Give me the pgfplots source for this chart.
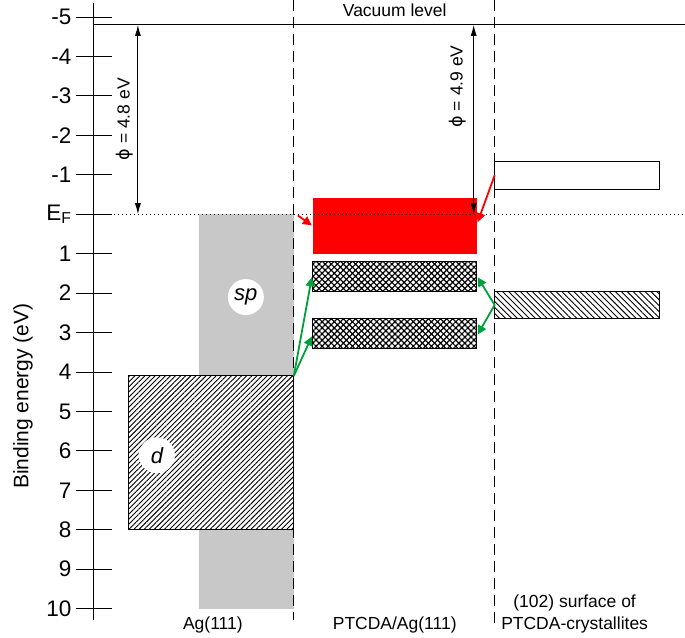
\documentclass[border=0pt]{standalone}
\usepackage{pgfplots}
\pgfplotsset{compat=1.18}
\usepackage{fontspec}
\setmainfont{Liberation Sans}
\newfontfamily\dejavu{DejaVu Sans}
\usetikzlibrary{patterns.meta, arrows.meta}
\definecolor{sgrey}{RGB}{200,200,200}
\definecolor{sgreen}{RGB}{0,160,60}
\begin{document}
\begin{tikzpicture}
\begin{axis}[
  scale only axis, width=591pt, height=616.9pt,
  xmin=94, xmax=685, ymin=-5.35, ymax=10.28, y dir=reverse,
  axis x line=none, axis y line=left,
  y axis line style={-, line width=0.9pt, black},
  ytick={-5,-4,-3,-2,-1,0,1,2,3,4,5,6,7,8,9,10},
  yticklabels={-5,-4,-3,-2,-1,E\textsubscript{F},1,2,3,4,5,6,7,8,9,10},
  ytick align=center, major tick length=36pt,
  tick style={line width=0.9pt, black},
  yticklabel style={font=\fontsize{22.5}{22.5}\selectfont, xshift=-1pt},
  clip=false,
]
\path (axis cs:0,-5.42) rectangle (axis cs:685,10.74);
% grey sp band
\addplot[fill=sgrey, draw=none] coordinates {(199,0) (294,0) (294,10) (199,10)} -- cycle;
% d band
\addplot[draw=black, line width=0.9pt, fill=white, postaction={pattern={Lines[angle=45,distance=3.6pt,line width=0.9pt]}}] coordinates {(129,4.1) (294,4.1) (294,8.0) (129,8.0)} -- cycle;
% PTCDA/Ag(111) levels
\addplot[fill=red, draw=none] coordinates {(313,-0.4) (477,-0.4) (477,1.0) (313,1.0)} -- cycle;
\addplot[draw=black, line width=0.9pt, fill=white, postaction={pattern={Hatch[angle=45,distance=4.3pt,line width=1.2pt]}}] coordinates {(313,1.2) (477,1.2) (477,1.95) (313,1.95)} -- cycle;
\addplot[draw=black, line width=0.9pt, fill=white, postaction={pattern={Hatch[angle=45,distance=4.3pt,line width=1.2pt]}}] coordinates {(313,2.65) (477,2.65) (477,3.4) (313,3.4)} -- cycle;
% crystallite levels
\addplot[draw=black, line width=0.9pt, fill=white] coordinates {(495,-1.35) (660,-1.35) (660,-0.63) (495,-0.63)} -- cycle;
\addplot[draw=black, line width=0.9pt, fill=white, postaction={pattern={Lines[angle=-45,distance=4.2pt,line width=0.9pt]}}] coordinates {(495,1.95) (660,1.95) (660,2.65) (495,2.65)} -- cycle;
% vacuum level and Fermi level
\addplot[black, line width=0.9pt] coordinates {(94,-4.8) (685,-4.8)};
\addplot[black, line width=0.9pt, dash pattern=on 1pt off 3pt] coordinates {(94,0) (685,0)};
% dashed separators
\addplot[black, line width=0.9pt, dash pattern=on 11pt off 6pt] coordinates {(294,-5.42) (294,10.3)};
\addplot[black, line width=0.9pt, dash pattern=on 11pt off 6pt] coordinates {(495,-5.42) (495,10.5)};
% work function arrows
\addplot[black, line width=0.9pt, {Latex[length=11pt,width=6pt]}-{Latex[length=11pt,width=6pt]}] coordinates {(138,-4.8) (138,0)};
\addplot[black, line width=0.9pt, {Latex[length=11pt,width=6pt]}-{Latex[length=11pt,width=6pt]}] coordinates {(474,-4.8) (474,0)};
% red arrows
\addplot[red, line width=1.8pt, -{Triangle[length=9pt,width=9pt]}] coordinates {(298,0.03) (312,0.28)};
\addplot[red, line width=1.8pt, -{Triangle[length=9pt,width=9pt]}] coordinates {(495,-0.99) (478,0.2)};
% green arrows
\addplot[sgreen, line width=1.8pt, -{Triangle[length=9pt,width=9pt]}] coordinates {(294,4.1) (312,1.6)};
\addplot[sgreen, line width=1.8pt, -{Triangle[length=9pt,width=9pt]}] coordinates {(294,4.1) (312,3.1)};
\addplot[sgreen, line width=1.8pt, -{Triangle[length=9pt,width=9pt]}] coordinates {(495,2.3) (478,1.6)};
\addplot[sgreen, line width=1.8pt, -{Triangle[length=9pt,width=9pt]}] coordinates {(495,2.3) (478,3.05)};
% labels
\node[circle, fill=white, minimum size=36pt, inner sep=0pt, font=\itshape\fontsize{22}{22}\selectfont] at (axis cs:246,2.10) {sp};
\node[circle, fill=white, minimum size=36pt, inner sep=0pt, font=\itshape\fontsize{22}{22}\selectfont] at (axis cs:157,6.11) {d};
\node[font=\fontsize{17.5}{17.5}\selectfont] at (axis cs:395,-5.17) {Vacuum level};
\node[rotate=90, font=\fontsize{17.5}{17.5}\selectfont] at (axis cs:125,-2.41) {{\dejavu ϕ} = 4.8 eV};
\node[rotate=90, font=\fontsize{17.5}{17.5}\selectfont] at (axis cs:458,-3.24) {{\dejavu ϕ} = 4.9 eV};
\node[font=\fontsize{17.5}{17.5}\selectfont] at (axis cs:213,10.41) {Ag(111)};
\node[font=\fontsize{17.5}{17.5}\selectfont] at (axis cs:395,10.41) {PTCDA/Ag(111)};
\node[font=\fontsize{17.5}{17.5}\selectfont] at (axis cs:575,9.86) {(102) surface of};
\node[font=\fontsize{17.5}{17.5}\selectfont] at (axis cs:575,10.41) {PTCDA-crystallites};
\node[rotate=90, font=\fontsize{21}{21}\selectfont] at (axis cs:23,4.61) {Binding energy (eV)};
\end{axis}
\end{tikzpicture}
\end{document}
